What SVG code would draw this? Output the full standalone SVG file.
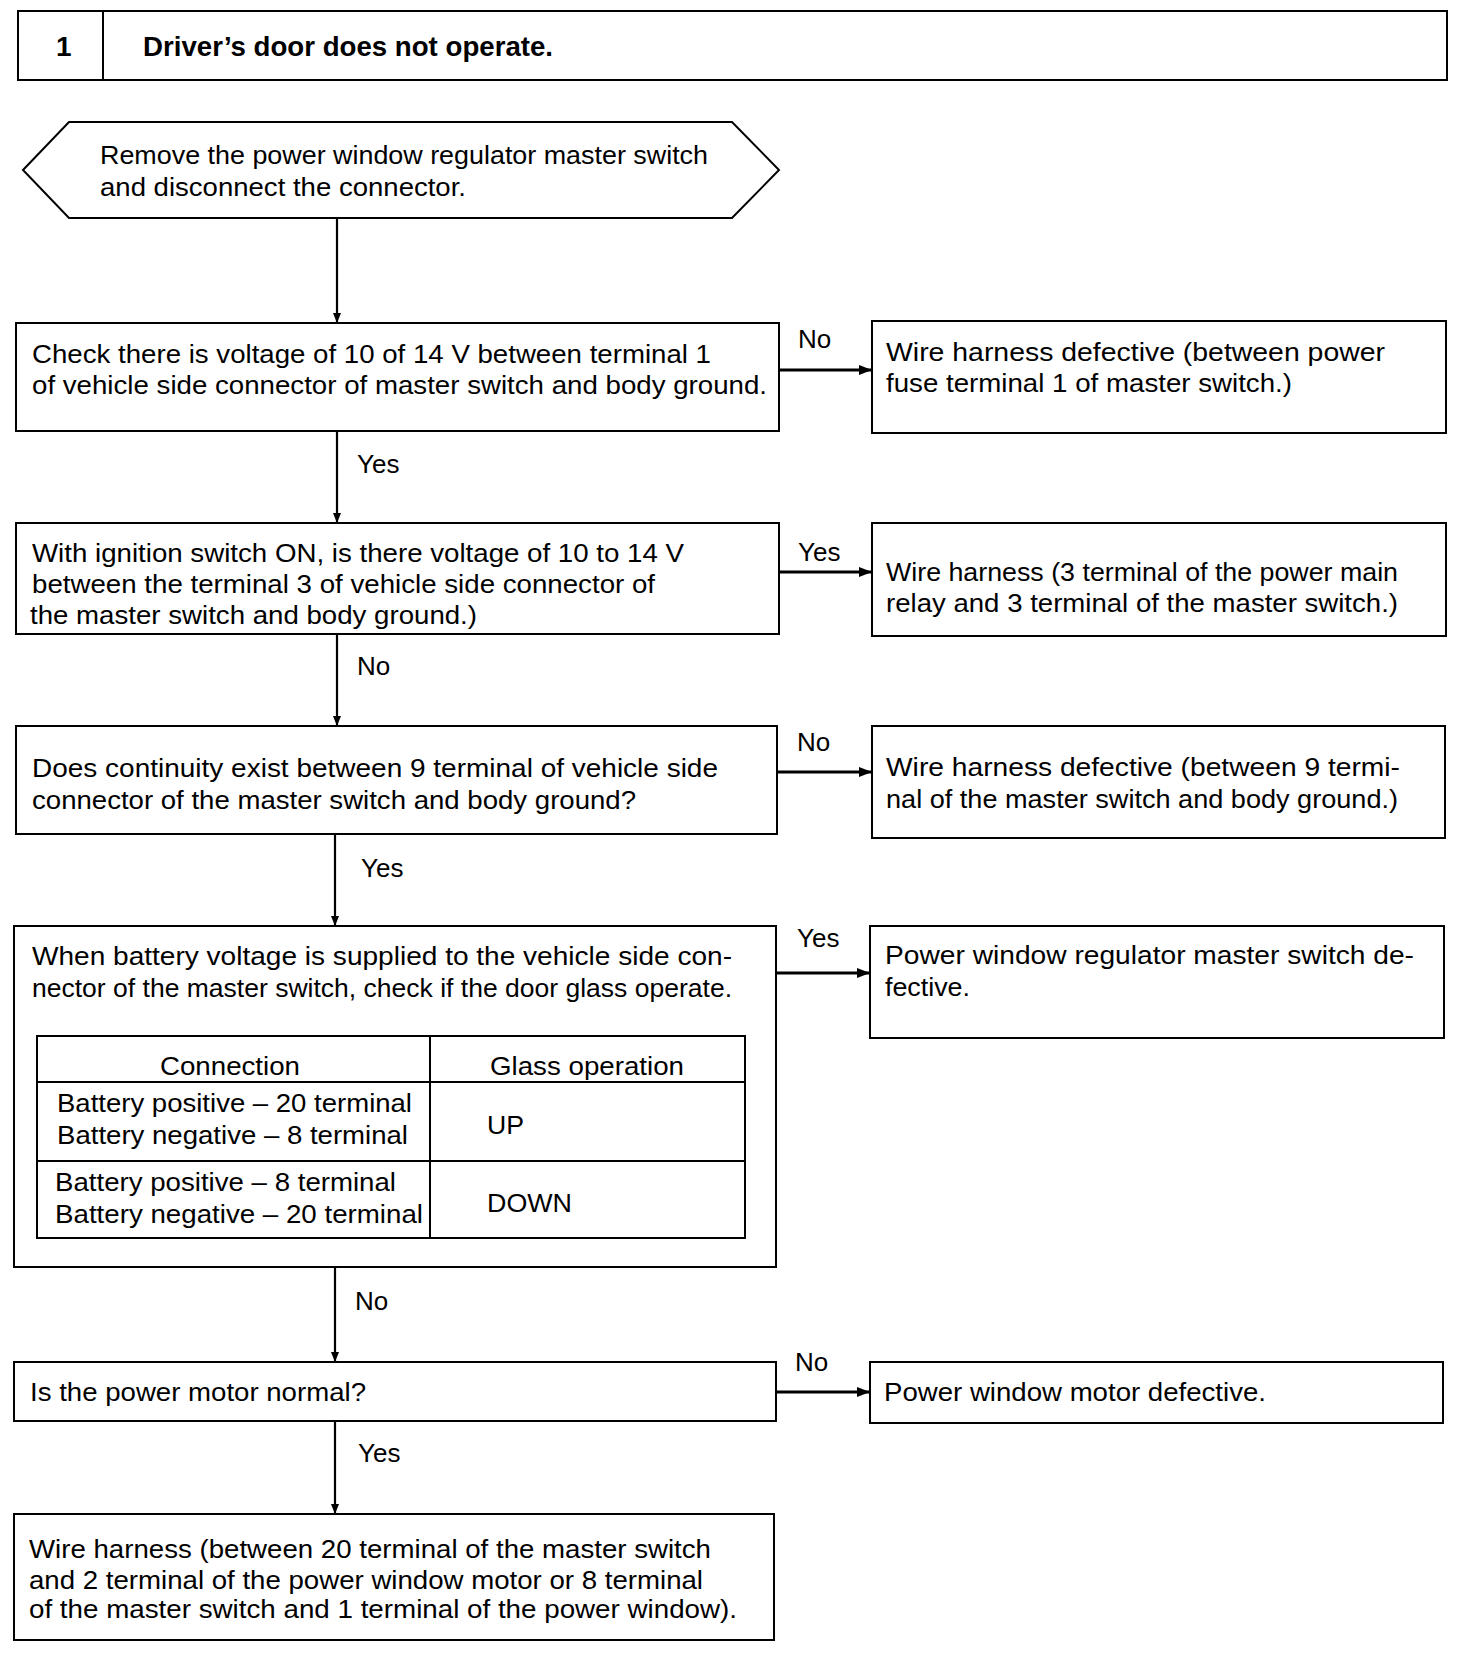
<svg xmlns="http://www.w3.org/2000/svg" width="1472" height="1662" viewBox="0 0 1472 1662">
<style>
.box{fill:#fff;stroke:#000;stroke-width:2}
.ln{stroke:#000;stroke-width:2;fill:none}
.t{font-family:"Liberation Sans",Arial,sans-serif;font-size:26px;fill:#000}
.tb{font-family:"Liberation Sans",Arial,sans-serif;font-size:28px;font-weight:bold;fill:#000}
.c{stroke:#000;stroke-width:2.2;fill:none}
.h{stroke:#000;stroke-width:3;fill:none}
</style>
<defs>
<marker id="ah" viewBox="0 0 10 8" refX="10" refY="4" markerWidth="10" markerHeight="8" markerUnits="userSpaceOnUse" orient="auto">
<path d="M0,0 L10,4 L0,8 z" fill="#000"/>
</marker>
<marker id="ahh" viewBox="0 0 13 10" refX="13" refY="5" markerWidth="13" markerHeight="10" markerUnits="userSpaceOnUse" orient="auto">
<path d="M0,0 L13,5 L0,10 z" fill="#000"/>
</marker>
</defs>
<rect width="1472" height="1662" fill="#fff"/>

<g id="title">
<rect class="box" x="18" y="11" width="1429" height="69"/>
<line class="ln" x1="103" y1="11" x2="103" y2="80"/>
<text class="tb" x="56" y="56">1</text>
<text class="tb" x="143" y="56" textLength="410" lengthAdjust="spacingAndGlyphs">Driver’s door does not operate.</text>
</g>

<g id="connectors">
<line class="c" x1="337" y1="218" x2="337" y2="323" marker-end="url(#ah)"/>
<line class="c" x1="337" y1="431" x2="337" y2="523" marker-end="url(#ah)"/>
<line class="c" x1="337" y1="634" x2="337" y2="726" marker-end="url(#ah)"/>
<line class="c" x1="335" y1="834" x2="335" y2="926" marker-end="url(#ah)"/>
<line class="c" x1="335" y1="1267" x2="335" y2="1362" marker-end="url(#ah)"/>
<line class="c" x1="335" y1="1421" x2="335" y2="1514" marker-end="url(#ah)"/>
<line class="h" x1="779" y1="370" x2="872" y2="370" marker-end="url(#ahh)"/>
<line class="h" x1="779" y1="572" x2="872" y2="572" marker-end="url(#ahh)"/>
<line class="h" x1="777" y1="772" x2="872" y2="772" marker-end="url(#ahh)"/>
<line class="h" x1="776" y1="973" x2="870" y2="973" marker-end="url(#ahh)"/>
<line class="h" x1="776" y1="1392" x2="870" y2="1392" marker-end="url(#ahh)"/>
<text class="t" x="357" y="473">Yes</text>
<text class="t" x="357" y="675">No</text>
<text class="t" x="361" y="877">Yes</text>
<text class="t" x="355" y="1310">No</text>
<text class="t" x="358" y="1462">Yes</text>
<text class="t" x="798" y="348">No</text>
<text class="t" x="798" y="561">Yes</text>
<text class="t" x="797" y="751">No</text>
<text class="t" x="797" y="947">Yes</text>
<text class="t" x="795" y="1371">No</text>
</g>

<g id="start">
<polygon class="box" points="23,170 69,122 732,122 779,170 732,218 69,218"/>
<text class="t" x="100" y="164" textLength="608" lengthAdjust="spacingAndGlyphs">Remove the power window regulator master switch</text>
<text class="t" x="100" y="196" textLength="366" lengthAdjust="spacingAndGlyphs">and disconnect the connector.</text>
</g>

<g id="q1">
<rect class="box" x="16" y="323" width="763" height="108"/>
<text class="t" x="32" y="363" textLength="679" lengthAdjust="spacingAndGlyphs">Check there is voltage of 10 of 14 V between terminal 1</text>
<text class="t" x="32" y="394" textLength="735" lengthAdjust="spacingAndGlyphs">of vehicle side connector of master switch and body ground.</text>
</g>

<g id="r1">
<rect class="box" x="872" y="321" width="574" height="112"/>
<text class="t" x="886" y="361" textLength="499" lengthAdjust="spacingAndGlyphs">Wire harness defective (between power</text>
<text class="t" x="886" y="392" textLength="406" lengthAdjust="spacingAndGlyphs">fuse terminal 1 of master switch.)</text>
</g>

<g id="q2">
<rect class="box" x="16" y="523" width="763" height="111"/>
<text class="t" x="32" y="562" textLength="652" lengthAdjust="spacingAndGlyphs">With ignition switch ON, is there voltage of 10 to 14 V</text>
<text class="t" x="32" y="593" textLength="623" lengthAdjust="spacingAndGlyphs">between the terminal 3 of vehicle side connector of</text>
<text class="t" x="30" y="624" textLength="447" lengthAdjust="spacingAndGlyphs">the master switch and body ground.)</text>
</g>

<g id="r2">
<rect class="box" x="872" y="523" width="574" height="113"/>
<text class="t" x="886" y="581" textLength="512" lengthAdjust="spacingAndGlyphs">Wire harness (3 terminal of the power main</text>
<text class="t" x="886" y="612" textLength="512" lengthAdjust="spacingAndGlyphs">relay and 3 terminal of the master switch.)</text>
</g>

<g id="q3">
<rect class="box" x="16" y="726" width="761" height="108"/>
<text class="t" x="32" y="777" textLength="686" lengthAdjust="spacingAndGlyphs">Does continuity exist between 9 terminal of vehicle side</text>
<text class="t" x="32" y="809" textLength="604" lengthAdjust="spacingAndGlyphs">connector of the master switch and body ground?</text>
</g>

<g id="r3">
<rect class="box" x="872" y="726" width="573" height="112"/>
<text class="t" x="886" y="776" textLength="514" lengthAdjust="spacingAndGlyphs">Wire harness defective (between 9 termi-</text>
<text class="t" x="886" y="808" textLength="512" lengthAdjust="spacingAndGlyphs">nal of the master switch and body ground.)</text>
</g>

<g id="q4">
<rect class="box" x="14" y="926" width="762" height="341"/>
<text class="t" x="32" y="965" textLength="700" lengthAdjust="spacingAndGlyphs">When battery voltage is supplied to the vehicle side con-</text>
<text class="t" x="32" y="997" textLength="700" lengthAdjust="spacingAndGlyphs">nector of the master switch, check if the door glass operate.</text>
<rect class="ln" x="37" y="1036" width="708" height="202"/>
<line class="ln" x1="430" y1="1036" x2="430" y2="1238"/>
<line class="ln" x1="37" y1="1082" x2="745" y2="1082"/>
<line class="ln" x1="37" y1="1161" x2="745" y2="1161"/>
<text class="t" x="160" y="1075" textLength="140" lengthAdjust="spacingAndGlyphs">Connection</text>
<text class="t" x="490" y="1075" textLength="194" lengthAdjust="spacingAndGlyphs">Glass operation</text>
<text class="t" x="57" y="1112" textLength="355" lengthAdjust="spacingAndGlyphs">Battery positive – 20 terminal</text>
<text class="t" x="57" y="1144" textLength="351" lengthAdjust="spacingAndGlyphs">Battery negative – 8 terminal</text>
<text class="t" x="487" y="1134" textLength="37" lengthAdjust="spacingAndGlyphs">UP</text>
<text class="t" x="55" y="1191" textLength="341" lengthAdjust="spacingAndGlyphs">Battery positive – 8 terminal</text>
<text class="t" x="55" y="1223" textLength="368" lengthAdjust="spacingAndGlyphs">Battery negative – 20 terminal</text>
<text class="t" x="487" y="1212" textLength="85" lengthAdjust="spacingAndGlyphs">DOWN</text>
</g>

<g id="r4">
<rect class="box" x="870" y="926" width="574" height="112"/>
<text class="t" x="885" y="964" textLength="529" lengthAdjust="spacingAndGlyphs">Power window regulator master switch de-</text>
<text class="t" x="885" y="996" textLength="85" lengthAdjust="spacingAndGlyphs">fective.</text>
</g>

<g id="q5">
<rect class="box" x="14" y="1362" width="762" height="59"/>
<text class="t" x="30" y="1401" textLength="336" lengthAdjust="spacingAndGlyphs">Is the power motor normal?</text>
</g>

<g id="r5">
<rect class="box" x="870" y="1362" width="573" height="61"/>
<text class="t" x="884" y="1401" textLength="382" lengthAdjust="spacingAndGlyphs">Power window motor defective.</text>
</g>

<g id="r6">
<rect class="box" x="14" y="1514" width="760" height="126"/>
<text class="t" x="29" y="1558" textLength="682" lengthAdjust="spacingAndGlyphs">Wire harness (between 20 terminal of the master switch</text>
<text class="t" x="29" y="1589" textLength="674" lengthAdjust="spacingAndGlyphs">and 2 terminal of the power window motor or 8 terminal</text>
<text class="t" x="29" y="1618" textLength="708" lengthAdjust="spacingAndGlyphs">of the master switch and 1 terminal of the power window).</text>
</g>
</svg>
